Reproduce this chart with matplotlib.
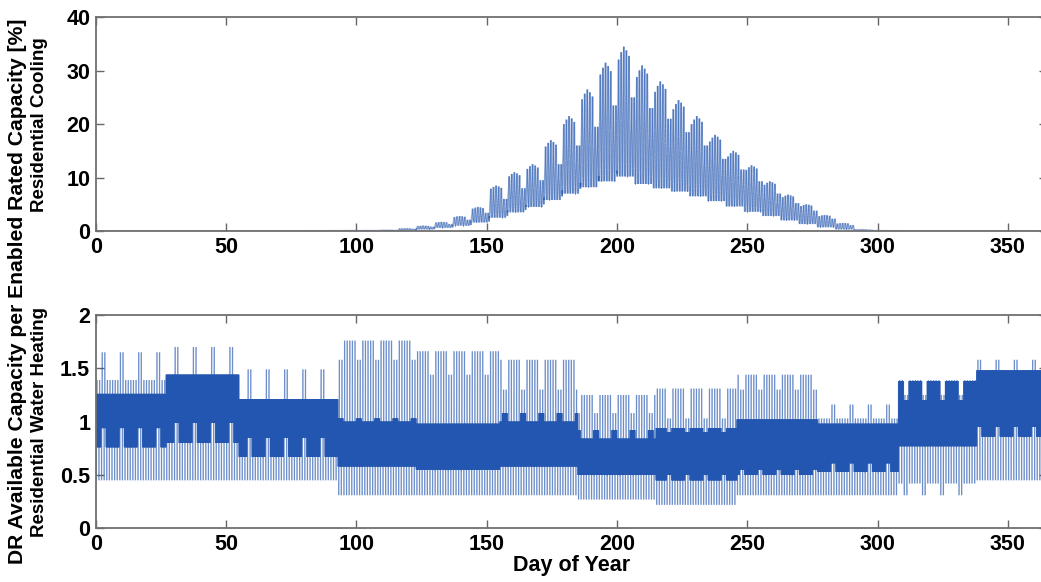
import numpy as np
import matplotlib
matplotlib.use("Agg")
import matplotlib.pyplot as plt
from matplotlib.collections import LineCollection

plt.rcParams['font.family'] = ['Liberation Sans', 'DejaVu Sans']
plt.rcParams['font.weight'] = 'bold'

# ---------------- data ----------------
# Residential cooling: weekly values (week k: weekdays = days 7k-3..7k+1, weekend = 7k+2, 7k+3)
cool_wd_peak = [0, 0, 0, 0, 0, 0, 0, 0, 0, 0, 0, 0.02, 0.05, 0.08, 0.1, 0.12, 0.2,
                0.5, 1.0, 1.7, 2.8, 4.5, 8.5, 11.0, 12.5, 17.0, 21.5, 26.5, 31.5,
                34.5, 31.0, 28.0, 24.5, 21.5, 18.0, 15.0, 12.3, 9.3, 6.8, 5.0, 3.0,
                1.5, 0.3, 0.08, 0.05, 0.03, 0.02, 0.02, 0.01, 0, 0, 0, 0]
cool_we_peak = [0, 0, 0, 0, 0, 0, 0, 0, 0, 0, 0, 0.02, 0.04, 0.06, 0.08, 0.1, 0.15,
                0.4, 0.8, 1.3, 2.1, 3.4, 6.0, 8.0, 9.5, 12.5, 16.0, 19.5, 23.5,
                25.0, 23.0, 21.0, 18.5, 16.0, 13.5, 11.5, 9.3, 7.0, 5.2, 3.8, 2.3,
                1.1, 0.2, 0.05, 0.03, 0.02, 0.01, 0.01, 0, 0, 0, 0, 0]
cool_min = [0, 0, 0, 0, 0, 0, 0, 0, 0, 0, 0, 0, 0, 0, 0, 0, 0,
            0.05, 0.3, 0.6, 1.0, 1.6, 2.5, 3.5, 4.5, 5.8, 7.0, 8.2, 9.3,
            10.2, 8.8, 8.0, 7.4, 6.5, 5.6, 4.6, 3.6, 2.8, 2.0, 1.3, 0.7,
            0.3, 0.05, 0, 0, 0, 0, 0, 0, 0, 0, 0, 0]
# relative height of each weekday's peak within a working week (Mon..Fri)
cool_weekday_rel = [0.93, 0.97, 1.0, 0.98, 0.95]
cool_shape = [0.05, 0.0, 0.0, 0.0, 0.02, 0.1, 0.3, 0.45, 0.5, 0.55, 0.6, 0.65,
              0.75, 0.85, 0.95, 1.0, 0.95, 0.8, 0.6, 0.45, 0.35, 0.25, 0.15, 0.1]

# Residential water heating: piecewise segments (start day), weekday / weekend levels
wh_seg_start = [0, 27, 55, 93, 123, 155, 185, 215, 246, 277, 308, 338]
wd_lo  = [0.45, 0.45, 0.45, 0.31, 0.31, 0.31, 0.27, 0.22, 0.31, 0.31, 0.42, 0.45]
wd_clo = [0.76, 0.80, 0.67, 0.58, 0.55, 0.58, 0.50, 0.45, 0.50, 0.53, 0.77, 0.86]
wd_chi = [1.26, 1.44, 1.21, 1.00, 0.98, 1.00, 0.84, 0.94, 1.02, 0.98, 1.38, 1.48]
wd_hi  = [1.39, 1.44, 1.21, 1.76, 1.66, 1.58, 1.25, 1.31, 1.44, 1.03, 1.39, 1.48]
we_lo  = [0.45, 0.45, 0.45, 0.31, 0.31, 0.31, 0.27, 0.22, 0.31, 0.31, 0.31, 0.45]
we_clo = [0.94, 0.99, 0.85, 0.58, 0.55, 0.58, 0.50, 0.50, 0.55, 0.61, 0.77, 0.95]
we_chi = [1.26, 1.44, 1.21, 1.03, 0.98, 1.08, 0.92, 0.90, 1.02, 0.98, 1.20, 1.48]
we_hi  = [1.65, 1.70, 1.49, 1.58, 1.44, 1.30, 1.08, 1.03, 1.30, 1.16, 1.25, 1.58]
# hourly pattern: 0 = daily min, 1 = core low, 2 = core high, 3 = daily max
wh_pattern = [1, 2, 1, 2, 1, 2, 0, 2, 1, 2, 1, 2, 3, 1, 2, 1, 2, 1, 2, 1, 2, 1, 2, 1]
weekend_days = [2, 3]   # day-of-year mod 7

n_days = 365
x_ticks = [0, 50, 100, 150, 200, 250, 300, 350]

# ---------------- build hourly series ----------------
hours = np.arange(24)
t_list, cool_list, wh_list = [], [], []
for d in range(n_days):
    wknd = (d % 7) in weekend_days
    k = (d + 3) // 7
    if wknd:
        pk = cool_we_peak[k]
    else:
        pk = cool_wd_peak[k] * cool_weekday_rel[(d + 3) % 7]
    mn = min(cool_min[k], pk)
    cool_list.append(mn + (pk - mn) * np.array(cool_shape))
    s = np.searchsorted(wh_seg_start, d, side='right') - 1
    if wknd:
        lv = np.array([we_lo[s], we_clo[s], we_chi[s], we_hi[s]])
    else:
        lv = np.array([wd_lo[s], wd_clo[s], wd_chi[s], wd_hi[s]])
    wh_list.append(lv[wh_pattern])
    t_list.append(d + hours / 24.0)
t = np.concatenate(t_list)
cool = np.concatenate(cool_list)
wh = np.concatenate(wh_list)


def segments(x, y):
    pts = np.column_stack([x, y])
    return np.stack([pts[:-1], pts[1:]], axis=1)


# ---------------- plot ----------------
W, H = 1041, 582
fig = plt.figure(figsize=(W / 100, H / 100), dpi=100)
left = 95.7 / W
right_px = 1047
aw = (right_px - 95.7) / W
ax1 = fig.add_axes([left, 1 - 231 / H, aw, (231 - 17.3) / H])
ax2 = fig.add_axes([left, 1 - 528.3 / H, aw, (528.3 - 315) / H])

line_color = '#2356b0'
ax1.add_collection(LineCollection(segments(t, cool), colors=line_color,
                                  linewidths=1.2, alpha=0.55))
ax2.add_collection(LineCollection(segments(t, wh), colors=line_color,
                                  linewidths=0.9, alpha=0.42))

ax1.set_ylim(0, 40)
ax1.set_yticks([0, 10, 20, 30, 40])
ax2.set_ylim(0, 2)
ax2.set_yticks([0, 0.5, 1, 1.5, 2])
ax2.set_yticklabels(['0', '0.5', '1', '1.5', '2'])
for ax in (ax1, ax2):
    ax.set_xlim(0, 365)
    ax.set_xticks(x_ticks)
    ax.tick_params(direction='in', top=True, right=True, length=6, width=1,
                   color='#666666', labelsize=15.5, pad=4)
    for lab in ax.get_xticklabels() + ax.get_yticklabels():
        lab.set_fontweight('bold')
    for sp in ax.spines.values():
        sp.set_color('#707070')
        sp.set_linewidth(1.3)

ax1.set_ylabel('Residential Cooling', fontsize=13.5, fontweight='bold')
ax2.set_ylabel('Residential Water Heating', fontsize=13.5, fontweight='bold')
ax1.yaxis.set_label_coords(-48 / (right_px - 95.7), 0.5)
ax2.yaxis.set_label_coords(-48 / (right_px - 95.7), 0.5)
ax2.set_xlabel('Day of Year', fontsize=15.5, fontweight='bold', labelpad=0)

fig.text(18 / W, 0.5, 'DR Available Capacity per Enabled Rated Capacity [%]',
         rotation=90, ha='center', va='center', fontsize=15.2, fontweight='bold')

fig.savefig('out.png', dpi=100)
